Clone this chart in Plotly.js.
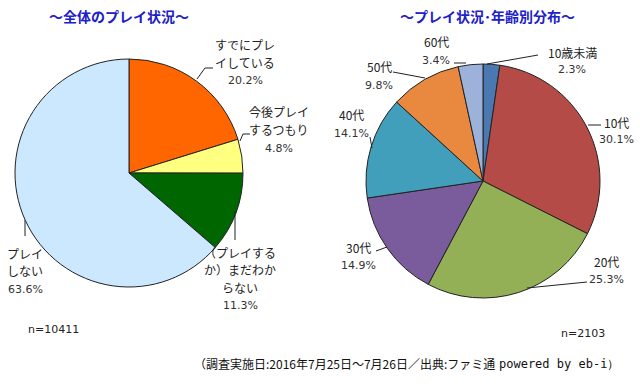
<!DOCTYPE html>
<html><head><meta charset="utf-8">
<script src="https://cdn.plot.ly/plotly-3.0.1.min.js"></script>
<style>html,body{margin:0;padding:0;background:#fff;}#chart{width:640px;height:386px;}</style>
</head><body><div id="chart"></div>
<script>
// ---- data ----
const overallTitle = '～全体のプレイ状況～';
const overallLabels = ['すでにプレ|イしている', '今後プレイ|するつもり', '（プレイする|か）まだわか|らない', 'プレイ|しない'];
const overallValues = [20.2, 4.8, 11.3, 63.6];
const overallColors = ['#FF6600', '#FFFF80', '#006600', '#CCE8FF'];
const overallN = 'n=10411';

const ageTitle = '～プレイ状況･年齢別分布～';
const ageLabels = ['10歳未満', '10代', '20代', '30代', '40代', '50代', '60代'];
const ageValues = [2.3, 30.1, 25.3, 14.9, 14.1, 9.8, 3.4];
const ageColors = ['#4A78B0', '#B44B47', '#93B057', '#7A5C9C', '#419FBC', '#E8893F', '#9DB2DA'];
const ageN = 'n=2103';

const footer = '（調査実施日:2016年7月25日～7月26日／出典:ファミ通';
const footer2 = 'powered by eb-i）';

// ---- helpers ----
const W = 640, H = 386;
const px = x => x / W;
const py = y => 1 - y / H;
const JP = '"Noto Sans CJK JP", "Noto Sans", sans-serif';
const NUM = '"DejaVu Sans", "Noto Sans CJK JP", sans-serif';

const annotations = [];
const shapes = [];
function txt(t, x, y, opts) {
  annotations.push(Object.assign({
    text: t, x: px(x), y: py(y), xref: 'paper', yref: 'paper',
    showarrow: false, xanchor: 'center', yanchor: 'middle',
    font: {family: JP, size: 12, color: '#222'}
  }, opts || {}));
}
function line(pts) {
  let d = 'M' + pts.map(p => px(p[0]) + ',' + py(p[1])).join('L');
  shapes.push({type: 'path', xref: 'paper', yref: 'paper', path: d, line: {color: '#222', width: 1}});
}
function label(lines, pct, x, y0, step, opts) {
  lines.forEach((l, i) => txt(l, x, y0 + i * step, opts));
  txt(pct.toFixed(1) + '%', x, y0 + lines.length * step + 1, Object.assign({}, opts || {}, {font: {family: NUM, size: 11, color: '#333'}}));
}

// Left pie labels
const lx = [[245, 45], [279, 112], [240, 252], [25, 253]];
overallLabels.forEach((l, i) => {
  const parts = l.split('|');
  label(parts, overallValues[i], lx[i][0], lx[i][1], 17.5);
});
line([[197, 79], [205, 68], [213, 68]]);
line([[240, 141], [243, 134], [250, 134]]);
line([[235, 211], [235, 240]]);
line([[25, 220], [25, 236]]);
txt(overallN, 53, 329, {font: {family: NUM, size: 11, color: '#222'}});

// Right pie labels
const rx = [[572, 52], [616, 122], [606, 261], [358, 247], [351, 115], [379, 67], [436, 42]];
ageLabels.forEach((l, i) => {
  label([l], ageValues[i], rx[i][0], rx[i][1], 17);
});
line([[487, 64], [538, 55]]);
line([[588, 125], [601, 125]]);
line([[527, 288], [587, 282]]);
line([[376, 251], [387, 247]]);
line([[370, 137], [372, 148]]);
line([[393, 72], [425, 78]]);
line([[454, 63], [466, 63]]);
txt(ageN, 583, 333, {font: {family: NUM, size: 11, color: '#222'}});

// titles
txt(overallTitle, 119, 16, {font: {family: JP, size: 14, color: '#2020C8', weight: 'bold'}});
txt(ageTitle, 487, 16, {font: {family: JP, size: 14, color: '#2020C8', weight: 'bold'}});

// footer
txt(footer, 192, 363, {xanchor: 'left', font: {family: JP, size: 12, color: '#111'}});
txt(footer2, 621, 364, {xanchor: 'right', font: {family: '"DejaVu Sans Mono", monospace', size: 12, color: '#111'}});

const pieLine = {color: '#222', width: 1};
const data = [
  {
    type: 'pie', labels: overallLabels.map(l => l.replace(/\|/g, '')), values: overallValues,
    marker: {colors: overallColors, line: pieLine},
    sort: false, direction: 'clockwise', rotation: 0,
    textinfo: 'none', hoverinfo: 'label+percent', showlegend: false,
    domain: {x: [px(15), px(243)], y: [py(287), py(59)]}
  },
  {
    type: 'pie', labels: ageLabels, values: ageValues,
    marker: {colors: ageColors, line: pieLine},
    sort: false, direction: 'clockwise', rotation: 0,
    textinfo: 'none', hoverinfo: 'label+percent', showlegend: false,
    domain: {x: [px(366), px(600)], y: [py(298), py(64)]}
  }
];

const layout = {
  width: W, height: H,
  margin: {l: 0, r: 0, t: 0, b: 0},
  paper_bgcolor: '#fff', plot_bgcolor: '#fff',
  showlegend: false,
  annotations: annotations, shapes: shapes
};
Plotly.newPlot('chart', data, layout, {displayModeBar: false, staticPlot: true});
</script></body></html>
